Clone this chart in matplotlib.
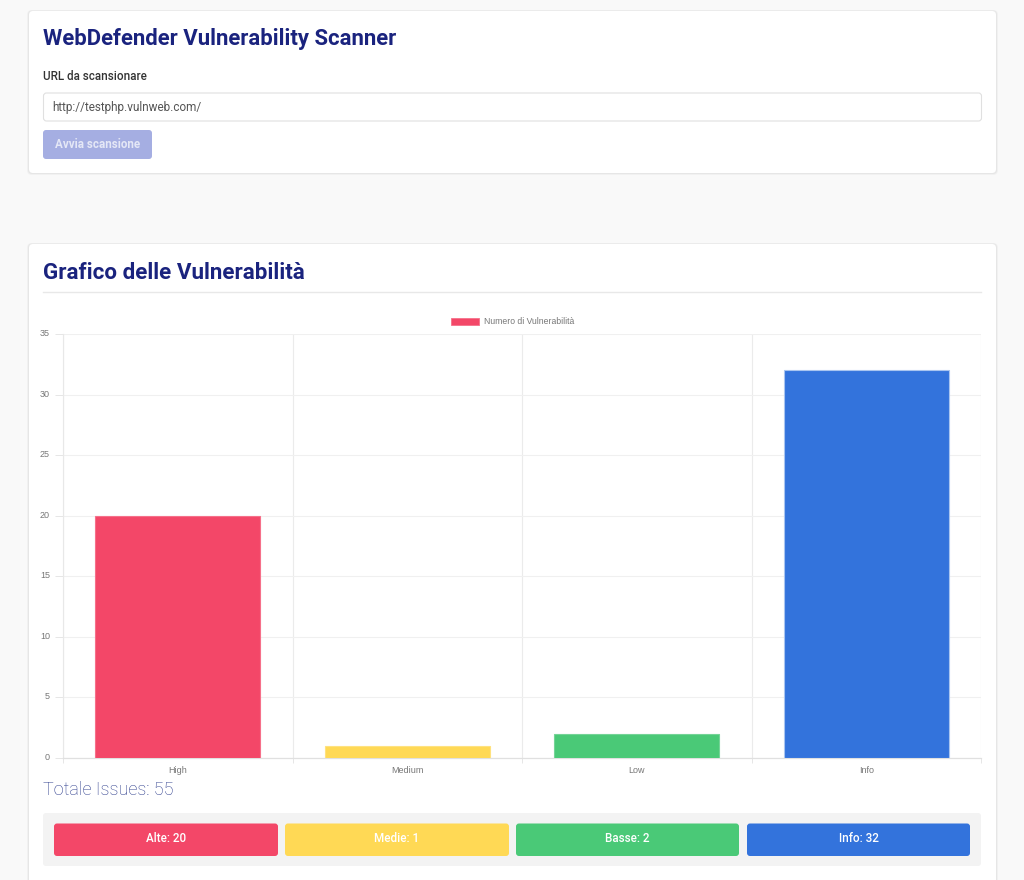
import matplotlib
matplotlib.use('Agg')
import matplotlib.pyplot as plt
from matplotlib.patches import FancyBboxPatch, Patch
from matplotlib.transforms import ScaledTranslation
import numpy as np

categories = ['High', 'Medium', 'Low', 'Info']
values = [20, 1, 2, 32]
bar_colors = ['#f34768', '#ffd955', '#4ac977', '#3373dc']
edge_colors = ['#f6708a', '#ffe27f', '#74d497', '#a9c5f0']
summary_labels = ['Alte: 20', 'Medie: 1', 'Basse: 2', 'Info: 32']
y_ticks = [0, 5, 10, 15, 20, 25, 30, 35]
series_name = 'Numero di Vulnerabilità'
page_title = 'WebDefender Vulnerability Scanner'
chart_title = 'Grafico delle Vulnerabilità'
url_label = 'URL da scansionare'
url_value = 'http://testphp.vulnweb.com/'
button_label = 'Avvia scansione'
total_label = 'Totale Issues: 55'

W, H = 1024, 880
DPI = 100
plt.rcParams['font.family'] = ['Roboto', 'DejaVu Sans']
CHART_FONT = ['Liberation Sans', 'DejaVu Sans']


def pt(px):
    return px * 72 / DPI


def box(ax, x0, y0, x1, y1, face, edge='none', lw=0.0, r=3, z=1):
    p = FancyBboxPatch((x0 + r, y0 + r), x1 - x0 - 2 * r, y1 - y0 - 2 * r,
                       boxstyle=f'round,pad={r},rounding_size={r}',
                       facecolor=face, edgecolor=edge, linewidth=lw, zorder=z)
    ax.add_patch(p)
    return p


fig = plt.figure(figsize=(W / DPI, H / DPI), dpi=DPI, facecolor='#f9f9f9')

# page chrome in pixel coordinates
bg = fig.add_axes([0, 0, 1, 1], zorder=0)
bg.set_xlim(0, W)
bg.set_ylim(H, 0)
bg.axis('off')

# cards with a soft shadow
for y0, y1 in [(11, 173), (244, 900)]:
    box(bg, 27, y0 - 1, 998, y1 + 2, '#f1f1f1', r=5, z=1)
    box(bg, 28, y0 - 0.5, 997, y1 + 1, '#e6e6e6', r=4, z=1)
    box(bg, 29, y0, 996, y1, 'white', r=4, z=2)

bg.text(43, 39, page_title, fontsize=pt(22.2), fontweight='bold', color='#1a237e',
        va='center', ha='left', zorder=3)
bg.text(43, 77, url_label, fontsize=pt(11.6), fontweight='medium', color='#333333',
        va='center', ha='left', zorder=3)
box(bg, 43.5, 93, 981.5, 121, 'white', edge='#e0e0e0', lw=0.8, r=3, z=3)
bg.text(52, 107, url_value, fontsize=pt(11.7), color='#555555', va='center', ha='left', zorder=4)
box(bg, 43, 130, 152, 159, '#a5aee2', r=3, z=3)
bg.text(97.5, 144.5, button_label, fontsize=pt(11.6), fontweight='bold', color='#e4e7f6',
        va='center', ha='center', zorder=4)

bg.text(43, 273, chart_title, fontsize=pt(22.4), fontweight='bold', color='#1a237e',
        va='center', ha='left', zorder=3)
bg.plot([43, 981], [292.5, 292.5], color='#e8e8e8', lw=1.0, zorder=3)

bg.text(43, 790, total_label, fontsize=pt(18), fontweight='light', color='#2c3c8c',
        va='center', ha='left', zorder=3)

# summary strip
box(bg, 43, 813, 981, 866, '#f3f3f3', r=3, z=3)
tile_x = [(54, 278), (285, 509), (516, 739), (747, 970)]
for (x0, x1), c, lab in zip(tile_x, bar_colors, summary_labels):
    box(bg, x0, 823.5, x1, 856, c, r=3, z=4)
    bg.text((x0 + x1) / 2, 838.5, lab, fontsize=pt(11.6), fontweight='medium', color='white',
            va='center', ha='center', zorder=5)

# bar chart
left, right, top, bottom = 63, 981, 334, 758
ax = fig.add_axes([left / W, 1 - bottom / H, (right - left) / W, (bottom - top) / H], zorder=1)
ax.patch.set_alpha(0)
x = np.arange(len(categories))
ax.bar(x, values, width=0.72, color=bar_colors, edgecolor=edge_colors, linewidth=0.8, zorder=3)
ax.set_xlim(-0.5, len(categories) - 0.5)
ax.set_ylim(0, 35)
ax.set_yticks(y_ticks)
ax.set_xticks(x, categories)
ax.set_xticks(np.arange(len(categories) + 1) - 0.5, minor=True)
ax.tick_params(axis='y', labelsize=pt(9), labelcolor='#777777', color='#e6e6e6', length=pt(8),
               width=0.7, pad=pt(5))
ax.tick_params(axis='x', which='major', labelsize=pt(9), labelcolor='#777777', length=0, pad=pt(8))
ax.tick_params(axis='x', which='minor', color='#e6e6e6', length=pt(5), width=0.7)
for lab in ax.get_xticklabels() + ax.get_yticklabels():
    lab.set_fontfamily(CHART_FONT)
# y labels sit a little above their gridlines in the reference
nudge = ScaledTranslation(0, 1.5 / DPI, fig.dpi_scale_trans)
for lab in ax.get_yticklabels():
    lab.set_transform(lab.get_transform() + nudge)
ax.grid(axis='y', color='#f0f0f0', lw=0.8, zorder=0)
ax.grid(axis='x', which='minor', color='#ebebeb', lw=0.8, zorder=0)
for s in ['top', 'right']:
    ax.spines[s].set_visible(False)
ax.spines['left'].set_color('#e8e8e8')
ax.spines['left'].set_linewidth(0.8)
ax.spines['bottom'].set_color('#e0e0e0')
ax.spines['bottom'].set_linewidth(0.9)

handle = Patch(facecolor=bar_colors[0], edgecolor=edge_colors[0], linewidth=0.6)
leg = ax.legend([handle], [series_name], loc='lower center', bbox_to_anchor=(0.4895, 1.0),
                frameon=False, prop={'family': CHART_FONT, 'size': pt(8.6)}, labelcolor='#777777',
                handlelength=3.3, handleheight=0.95, handletextpad=0.5, borderaxespad=0.7,
                borderpad=0.2)

fig.savefig('out.png', dpi=DPI, facecolor=fig.get_facecolor())
